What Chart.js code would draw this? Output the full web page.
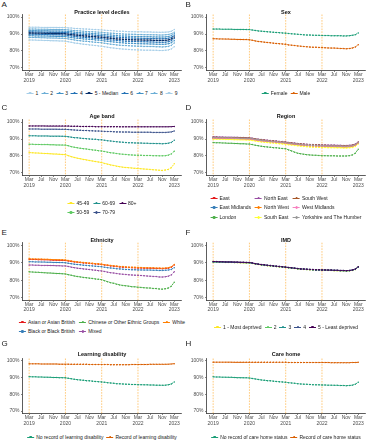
<!DOCTYPE html>
<html><head><meta charset="utf-8">
<script src="https://cdn.jsdelivr.net/npm/chart.js@4.4.1/dist/chart.umd.min.js"></script>
<style>
html,body{margin:0;padding:0;background:#fff}
body{width:368px;height:440px;position:relative;overflow:hidden;font-family:"Liberation Sans",Arial,sans-serif}
canvas.cv{position:absolute}
.lbl{position:absolute;font-size:8px;line-height:8px;color:#222}
.ttl{position:absolute;font-size:5.5px;line-height:6px;font-weight:bold;color:#111;white-space:nowrap;transform:translateX(-50%)}
.leg{position:absolute;font-size:5px;line-height:5px;color:#222;display:grid;grid-auto-flow:column;column-gap:4px;row-gap:4.7px;white-space:nowrap;transform:translateX(-50%)}
.it{display:flex;align-items:center;height:5px}
.key{width:7px;height:5px;position:relative;margin-right:2px;flex:none}
.key i{position:absolute;left:0;right:0;top:2px;height:1px;background:var(--c)}
.key b{position:absolute;left:2.3px;top:1.3px;width:2.4px;height:2.4px;border-radius:50%;background:var(--c)}
</style></head>
<body>
<script>
// ---------- categories & ticks ----------
const months = ["2019-03","2019-04","2019-05","2019-06","2019-07","2019-08","2019-09","2019-10","2019-11","2019-12","2020-01","2020-02",
"2020-03","2020-04","2020-05","2020-06","2020-07","2020-08","2020-09","2020-10","2020-11","2020-12","2021-01","2021-02",
"2021-03","2021-04","2021-05","2021-06","2021-07","2021-08","2021-09","2021-10","2021-11","2021-12","2022-01","2022-02",
"2022-03","2022-04","2022-05","2022-06","2022-07","2022-08","2022-09","2022-10","2022-11","2022-12","2023-01","2023-02","2023-03"];
const xTickIndex = [0,4,8,12,16,20,24,28,32,36,40,44,48];
const xTickLabels = [["Mar","2019"],"Jul","Nov",["Mar","2020"],"Jul","Nov",["Mar","2021"],"Jul","Nov",["Mar","2022"],"Jul","Nov",["Mar","2023"]];
const yTicks = [70,80,90,100];
const markerMonths = [0,12,24,36];

// ---------- A: practice level deciles ----------
const decileNames = ["1","2","3","4","5 - Median","6","7","8","9"];
const d1 = [86.5,86.4,86.4,86.3,86.3,86.2,86.2,86.1,86.0,86.0,85.9,85.9,85.8,85.4,85.1,84.7,84.5,84.2,84.0,83.8,83.6,83.4,83.2,83.0,82.8,82.5,82.2,81.9,81.7,81.5,81.3,81.1,81.0,80.9,80.8,80.7,80.6,80.6,80.5,80.5,80.5,80.4,80.4,80.3,80.3,80.4,80.6,81.2,82.5];
const d2 = [88.0,88.0,87.9,87.9,87.8,87.8,87.7,87.7,87.6,87.6,87.5,87.5,87.4,87.1,86.8,86.5,86.2,86.0,85.8,85.7,85.5,85.3,85.1,85.0,84.8,84.5,84.3,84.0,83.8,83.6,83.4,83.3,83.2,83.1,83.0,82.9,82.8,82.8,82.7,82.7,82.6,82.6,82.5,82.5,82.4,82.5,82.7,83.3,84.7];
const d3 = [89.0,89.0,88.9,88.9,88.8,88.8,88.8,88.7,88.7,88.6,88.6,88.5,88.5,88.2,87.9,87.7,87.5,87.3,87.1,87.0,86.8,86.7,86.5,86.4,86.2,85.9,85.7,85.5,85.3,85.1,84.9,84.8,84.6,84.5,84.5,84.4,84.3,84.3,84.2,84.2,84.1,84.1,84.0,84.0,83.9,84.0,84.2,84.8,86.1];
const d4 = [89.9,89.9,89.8,89.8,89.7,89.7,89.7,89.6,89.6,89.5,89.5,89.4,89.4,89.1,88.9,88.6,88.4,88.2,88.1,87.9,87.8,87.6,87.5,87.4,87.2,87.0,86.7,86.5,86.4,86.2,86.0,85.9,85.8,85.7,85.6,85.6,85.5,85.5,85.4,85.4,85.3,85.3,85.2,85.2,85.1,85.2,85.4,86.0,87.3];
const d5 = [90.6,90.6,90.5,90.5,90.5,90.4,90.4,90.4,90.3,90.3,90.3,90.2,90.2,89.9,89.7,89.4,89.3,89.1,88.9,88.8,88.6,88.5,88.4,88.2,88.1,87.9,87.7,87.5,87.3,87.1,87.0,86.9,86.8,86.7,86.6,86.6,86.5,86.5,86.4,86.4,86.4,86.3,86.3,86.2,86.2,86.3,86.5,87.0,88.3];
const d6 = [91.3,91.3,91.2,91.2,91.2,91.1,91.1,91.1,91.0,91.0,91.0,90.9,90.9,90.7,90.4,90.2,90.0,89.9,89.8,89.6,89.5,89.4,89.2,89.1,89.0,88.8,88.6,88.4,88.3,88.1,88.0,87.9,87.8,87.7,87.6,87.6,87.5,87.5,87.4,87.4,87.4,87.3,87.3,87.2,87.2,87.3,87.5,88.0,89.2];
const d7 = [92.0,92.0,92.0,91.9,91.9,91.9,91.9,91.8,91.8,91.8,91.8,91.7,91.7,91.5,91.3,91.1,90.9,90.7,90.6,90.5,90.4,90.3,90.1,90.0,89.9,89.7,89.5,89.4,89.2,89.1,88.9,88.8,88.8,88.7,88.6,88.6,88.5,88.5,88.4,88.4,88.4,88.3,88.3,88.2,88.2,88.3,88.5,89.0,90.1];
const d8 = [92.9,92.9,92.9,92.8,92.8,92.8,92.8,92.7,92.7,92.7,92.7,92.6,92.6,92.4,92.2,92.0,91.9,91.8,91.6,91.5,91.4,91.3,91.2,91.1,91.0,90.8,90.6,90.5,90.4,90.2,90.1,90.0,89.9,89.9,89.8,89.8,89.7,89.7,89.6,89.6,89.6,89.5,89.5,89.4,89.4,89.5,89.7,90.1,91.1];
const d9 = [94.0,94.0,94.0,94.0,93.9,93.9,93.9,93.9,93.9,93.9,93.8,93.8,93.8,93.6,93.5,93.3,93.2,93.1,93.0,92.9,92.8,92.7,92.6,92.5,92.4,92.2,92.1,92.0,91.9,91.7,91.6,91.6,91.5,91.4,91.4,91.3,91.3,91.3,91.2,91.2,91.2,91.1,91.1,91.0,91.0,91.1,91.2,91.6,92.6];

// ---------- B: sex ----------
const sexNames = ["Female","Male"];
const female = [92.9,92.9,92.9,92.8,92.8,92.8,92.8,92.7,92.7,92.7,92.7,92.6,92.6,92.3,92.1,91.8,91.7,91.5,91.3,91.2,91.0,90.9,90.8,90.6,90.5,90.3,90.1,90.0,89.8,89.7,89.5,89.4,89.4,89.3,89.2,89.2,89.1,89.1,89.1,89.0,89.0,89.0,89.0,88.9,88.9,89.0,89.2,89.6,90.6];
const male = [87.2,87.2,87.1,87.1,87.0,87.0,86.9,86.9,86.8,86.8,86.7,86.7,86.6,86.3,85.9,85.6,85.4,85.2,85.0,84.8,84.6,84.4,84.3,84.1,83.9,83.6,83.4,83.2,83.0,82.8,82.6,82.5,82.3,82.2,82.2,82.1,82.0,81.9,81.8,81.7,81.7,81.6,81.5,81.4,81.3,81.4,81.7,82.3,83.7];

// ---------- C: age band ----------
const ageNames = ["45-49","50-59","60-69","70-79","80+"];
const age45 = [82.0,81.9,81.8,81.7,81.6,81.5,81.4,81.3,81.2,81.1,81.0,80.9,80.8,80.2,79.6,79.1,78.7,78.3,78.0,77.7,77.3,77.0,76.7,76.4,76.1,75.6,75.2,74.7,74.4,74.0,73.7,73.4,73.2,73.1,72.9,72.7,72.6,72.5,72.3,72.2,72.1,71.9,71.8,71.6,71.5,71.7,72.1,73.1,75.4];
const age50 = [86.9,86.9,86.8,86.8,86.7,86.7,86.7,86.6,86.6,86.5,86.5,86.4,86.4,86.0,85.5,85.1,84.8,84.5,84.3,84.1,83.8,83.6,83.4,83.1,82.9,82.6,82.2,81.9,81.7,81.4,81.2,81.0,80.9,80.7,80.6,80.5,80.4,80.4,80.3,80.3,80.3,80.2,80.2,80.1,80.1,80.2,80.5,81.2,82.8];
const age60 = [91.9,91.9,91.9,91.8,91.8,91.8,91.8,91.7,91.7,91.7,91.7,91.6,91.6,91.3,91.1,90.8,90.7,90.5,90.3,90.2,90.0,89.9,89.8,89.6,89.5,89.2,89.0,88.8,88.6,88.4,88.2,88.1,87.9,87.8,87.8,87.7,87.6,87.6,87.5,87.5,87.4,87.4,87.3,87.3,87.2,87.3,87.5,88.0,89.2];
const age70 = [95.9,95.9,95.9,95.9,95.8,95.8,95.8,95.8,95.8,95.8,95.7,95.7,95.7,95.6,95.4,95.3,95.2,95.1,95.0,95.0,94.9,94.8,94.7,94.7,94.6,94.5,94.4,94.4,94.3,94.2,94.2,94.1,94.1,94.1,94.0,94.0,94.0,94.0,94.0,94.0,94.0,93.9,93.9,93.9,93.9,93.9,94.0,94.2,94.7];
const age80 = [97.7,97.7,97.7,97.7,97.7,97.7,97.6,97.6,97.6,97.6,97.6,97.6,97.6,97.6,97.5,97.5,97.5,97.4,97.4,97.4,97.4,97.4,97.3,97.3,97.3,97.3,97.3,97.3,97.3,97.3,97.2,97.2,97.2,97.2,97.2,97.2,97.2,97.2,97.2,97.2,97.2,97.2,97.2,97.2,97.2,97.2,97.2,97.3,97.4];

// ---------- D: region ----------
const regionNames = ["East","East Midlands","London","North East","North West","South East","South West","West Midlands","Yorkshire and The Humber"];
const regEast = [90.7,90.7,90.6,90.6,90.5,90.5,90.5,90.4,90.4,90.3,90.3,90.2,90.2,89.9,89.6,89.3,89.1,88.9,88.7,88.5,88.4,88.2,88.0,87.9,87.7,87.4,87.2,87.0,86.8,86.6,86.5,86.3,86.2,86.1,86.0,86.0,85.9,85.9,85.8,85.8,85.8,85.7,85.7,85.6,85.6,85.7,85.9,86.5,87.8];
const regEastMid = [90.4,90.4,90.3,90.3,90.3,90.2,90.2,90.2,90.1,90.1,90.1,90.0,90.0,89.7,89.4,89.1,88.9,88.7,88.5,88.3,88.2,88.0,87.8,87.7,87.5,87.2,87.0,86.8,86.6,86.4,86.3,86.1,86.0,85.9,85.8,85.8,85.7,85.7,85.6,85.6,85.6,85.5,85.5,85.4,85.4,85.5,85.7,86.2,87.5];
const regLondon = [87.9,87.8,87.8,87.7,87.6,87.5,87.5,87.4,87.3,87.2,87.2,87.1,87.0,86.7,86.3,86.0,85.7,85.5,85.3,85.1,84.9,84.8,84.6,84.4,84.2,83.6,82.9,82.2,81.6,81.3,81.0,80.8,80.6,80.5,80.4,80.3,80.2,80.2,80.1,80.1,80.1,80.0,80.0,80.0,80.0,80.2,80.6,81.6,84.0];
const regNorthEast = [91.3,91.3,91.2,91.2,91.1,91.1,91.1,91.0,91.0,90.9,90.9,90.8,90.8,90.5,90.2,89.9,89.7,89.5,89.3,89.1,89.0,88.8,88.6,88.5,88.3,88.0,87.8,87.6,87.4,87.2,87.1,86.9,86.8,86.7,86.6,86.6,86.5,86.5,86.4,86.4,86.4,86.3,86.3,86.2,86.2,86.3,86.5,87.0,88.3];
const regNorthWest = [90.5,90.5,90.4,90.4,90.3,90.3,90.2,90.2,90.1,90.1,90.0,90.0,89.9,89.6,89.3,89.0,88.8,88.6,88.4,88.2,88.1,87.9,87.7,87.6,87.4,87.1,86.9,86.7,86.5,86.3,86.1,86.0,85.8,85.7,85.7,85.6,85.5,85.5,85.4,85.4,85.4,85.3,85.3,85.2,85.2,85.3,85.6,86.2,87.6];
const regSouthEast = [89.9,89.9,89.8,89.8,89.7,89.7,89.7,89.6,89.6,89.5,89.5,89.4,89.4,89.1,88.8,88.5,88.3,88.1,87.9,87.7,87.6,87.4,87.2,87.1,86.9,86.6,86.4,86.2,86.0,85.8,85.6,85.5,85.3,85.2,85.2,85.1,85.0,85.0,84.9,84.9,84.9,84.8,84.8,84.7,84.7,84.8,85.0,85.6,87.0];
const regSouthWest = [91.0,91.0,90.9,90.9,90.9,90.8,90.8,90.8,90.7,90.7,90.7,90.6,90.6,90.3,90.0,89.7,89.5,89.3,89.1,88.9,88.8,88.6,88.4,88.3,88.1,87.8,87.6,87.4,87.2,87.0,86.9,86.7,86.6,86.5,86.4,86.4,86.3,86.3,86.2,86.2,86.2,86.1,86.1,86.0,86.0,86.1,86.3,86.8,88.1];
const regWestMid = [90.6,90.6,90.5,90.5,90.4,90.4,90.4,90.3,90.3,90.2,90.2,90.1,90.1,89.8,89.5,89.2,89.0,88.8,88.7,88.5,88.3,88.2,88.0,87.9,87.7,87.4,87.2,87.0,86.8,86.6,86.5,86.3,86.2,86.1,86.0,86.0,85.9,85.9,85.8,85.8,85.8,85.7,85.7,85.6,85.6,85.7,85.9,86.5,87.8];
const regYorks = [90.9,90.9,90.8,90.8,90.7,90.7,90.7,90.6,90.6,90.5,90.5,90.4,90.4,90.1,89.8,89.5,89.3,89.1,88.9,88.7,88.6,88.4,88.2,88.1,87.9,87.6,87.4,87.2,87.0,86.8,86.7,86.5,86.4,86.3,86.2,86.2,86.1,86.1,86.0,86.0,86.0,85.9,85.9,85.8,85.8,85.9,86.1,86.7,88.0];

// ---------- E: ethnicity ----------
const ethNames = ["Asian or Asian British","Black or Black British","Chinese or Other Ethnic Groups","Mixed","White"];
const ethAsian = [92.0,91.9,91.9,91.8,91.8,91.7,91.7,91.6,91.5,91.5,91.4,91.4,91.3,91.0,90.7,90.5,90.3,90.1,89.9,89.8,89.6,89.5,89.3,89.2,89.0,88.7,88.5,88.2,88.0,87.8,87.6,87.5,87.4,87.3,87.2,87.1,87.0,87.0,86.9,86.9,86.8,86.8,86.7,86.7,86.6,86.7,86.9,87.4,88.7];
const ethBlack = [90.6,90.6,90.5,90.5,90.4,90.4,90.3,90.3,90.2,90.2,90.1,90.1,90.0,89.7,89.4,89.2,89.0,88.8,88.6,88.5,88.3,88.2,88.0,87.9,87.7,87.4,87.2,87.0,86.8,86.6,86.5,86.3,86.2,86.1,86.0,86.0,85.9,85.9,85.8,85.8,85.8,85.7,85.7,85.6,85.6,85.7,85.8,86.2,87.2];
const ethChinese = [84.8,84.7,84.6,84.5,84.4,84.3,84.2,84.1,84.0,83.9,83.8,83.7,83.6,83.2,82.8,82.4,82.1,81.9,81.6,81.4,81.2,81.0,80.7,80.5,80.3,79.7,79.1,78.6,78.2,77.7,77.3,77.0,76.8,76.6,76.3,76.2,76.0,75.9,75.7,75.6,75.5,75.3,75.2,75.0,74.9,75.1,75.5,76.5,78.9];
const ethMixed = [88.7,88.7,88.6,88.6,88.5,88.5,88.5,88.4,88.4,88.3,88.3,88.2,88.2,87.9,87.5,87.2,86.9,86.7,86.5,86.3,86.1,85.9,85.7,85.5,85.3,85.0,84.6,84.3,84.1,83.8,83.6,83.4,83.3,83.1,83.0,82.9,82.8,82.7,82.6,82.4,82.3,82.2,82.1,81.9,81.8,82.0,82.3,83.0,84.8];
const ethWhite = [92.3,92.2,92.2,92.1,92.1,92.0,92.0,91.9,91.8,91.8,91.7,91.7,91.6,91.3,91.0,90.7,90.5,90.3,90.2,90.0,89.8,89.7,89.5,89.4,89.2,88.9,88.7,88.5,88.3,88.1,87.9,87.8,87.6,87.5,87.5,87.4,87.3,87.3,87.2,87.2,87.1,87.1,87.0,87.0,86.9,87.0,87.2,87.7,89.0];

// ---------- F: IMD ----------
const imdNames = ["1 - Most deprived","2","3","4","5 - Least deprived"];
const imd1 = [90.4,90.4,90.3,90.3,90.2,90.2,90.2,90.1,90.1,90.0,90.0,89.9,89.9,89.6,89.3,89.0,88.7,88.5,88.3,88.2,88.0,87.8,87.6,87.5,87.3,87.1,86.9,86.7,86.5,86.3,86.2,86.1,86.0,85.9,85.8,85.8,85.7,85.7,85.6,85.6,85.5,85.5,85.4,85.4,85.3,85.4,85.6,86.2,87.5];
const imd2 = [90.5,90.5,90.4,90.4,90.3,90.3,90.3,90.2,90.2,90.1,90.1,90.0,90.0,89.7,89.4,89.1,88.8,88.6,88.4,88.3,88.1,87.9,87.7,87.6,87.4,87.2,87.0,86.8,86.6,86.4,86.3,86.2,86.1,86.0,85.9,85.9,85.8,85.8,85.7,85.7,85.6,85.6,85.5,85.5,85.4,85.5,85.7,86.2,87.5];
const imd3 = [90.5,90.5,90.5,90.4,90.4,90.3,90.3,90.2,90.2,90.2,90.1,90.1,90.0,89.7,89.4,89.1,88.9,88.7,88.5,88.3,88.1,87.9,87.8,87.6,87.4,87.2,87.0,86.8,86.6,86.5,86.3,86.2,86.1,86.0,85.9,85.9,85.8,85.8,85.7,85.7,85.6,85.6,85.5,85.5,85.4,85.5,85.7,86.3,87.6];
const imd4 = [90.6,90.6,90.5,90.5,90.4,90.4,90.4,90.3,90.3,90.2,90.2,90.1,90.1,89.8,89.5,89.2,88.9,88.7,88.5,88.4,88.2,88.0,87.8,87.7,87.5,87.3,87.1,86.9,86.7,86.5,86.4,86.3,86.2,86.1,86.0,86.0,85.9,85.9,85.8,85.8,85.7,85.7,85.6,85.6,85.5,85.6,85.8,86.3,87.6];
const imd5 = [90.7,90.7,90.6,90.6,90.5,90.5,90.5,90.4,90.4,90.3,90.3,90.2,90.2,89.9,89.5,89.2,89.0,88.8,88.6,88.4,88.2,88.0,87.9,87.7,87.5,87.3,87.1,86.9,86.7,86.5,86.4,86.3,86.2,86.1,86.0,86.0,85.9,85.9,85.8,85.8,85.7,85.7,85.6,85.6,85.5,85.6,85.8,86.4,87.7];

// ---------- G: learning disability ----------
const ldNames = ["No record of learning disability","Record of learning disability"];
const ldNo = [90.6,90.5,90.5,90.4,90.4,90.3,90.3,90.2,90.1,90.1,90.0,90.0,89.9,89.6,89.3,89.0,88.8,88.6,88.4,88.2,88.1,87.9,87.7,87.6,87.4,87.2,87.0,86.8,86.6,86.4,86.3,86.2,86.1,86.0,85.9,85.9,85.8,85.8,85.7,85.7,85.6,85.6,85.5,85.5,85.4,85.5,85.7,86.2,87.4];
const ldYes = [98.3,98.3,98.3,98.3,98.2,98.2,98.2,98.2,98.2,98.2,98.1,98.1,98.1,98.1,98.0,98.0,98.0,98.0,98.0,98.0,97.9,97.9,97.9,97.9,97.9,97.9,97.9,97.8,97.8,97.8,97.8,97.8,97.8,97.8,97.9,97.9,97.9,97.9,97.9,97.9,98.0,98.0,98.0,98.0,98.0,98.0,98.1,98.2,98.4];

// ---------- H: care home ----------
const chNames = ["No record of care home status","Record of care home status"];
const chNo = [90.5,90.4,90.4,90.3,90.3,90.2,90.2,90.1,90.0,90.0,89.9,89.9,89.8,89.5,89.2,88.9,88.6,88.4,88.2,88.1,87.9,87.7,87.5,87.4,87.2,87.0,86.8,86.6,86.4,86.2,86.1,86.0,85.9,85.8,85.7,85.7,85.6,85.6,85.5,85.5,85.4,85.4,85.3,85.3,85.2,85.3,85.5,86.0,87.3];
const chYes = [99.3,99.3,99.3,99.3,99.3,99.3,99.3,99.2,99.2,99.2,99.2,99.2,99.2,99.2,99.2,99.2,99.2,99.2,99.2,99.2,99.2,99.2,99.2,99.2,99.2,99.1,99.1,99.1,99.1,99.1,99.1,99.1,99.1,99.1,99.1,99.1,99.1,99.1,99.1,99.0,99.0,99.0,99.0,99.0,99.0,99.0,99.1,99.1,99.2];

// ---------- styles ----------
const FONT = '"Liberation Sans", Arial, sans-serif';
const blues = ["#a6cee8","#6baed6","#4292c6","#2171b5","#08306b","#2171b5","#4292c6","#6baed6","#a6cee8"];
const dark2 = ["#1b9e77","#d95f02"];
const viridis5 = ["#fde725","#5ec962","#21918c","#3b528b","#440154"];
const set1Region = ["#e41a1c","#377eb8","#4daf4a","#984ea3","#ff7f00","#ffff33","#a65628","#f781bf","#999999"];
const set1Eth = ["#e41a1c","#377eb8","#4daf4a","#984ea3","#ff7f00"];

const panels = [
 {letter:"A",title:"Practice level deciles",col:0,row:0,names:decileNames,series:[d1,d2,d3,d4,d5,d6,d7,d8,d9],colors:blues,top:true,legRows:1,legY:93,median:4},
 {letter:"B",title:"Sex",col:1,row:0,names:sexNames,series:[female,male],colors:dark2,legRows:1,legY:93},
 {letter:"C",title:"Age band",col:0,row:1,names:ageNames,series:[age45,age50,age60,age70,age80],colors:viridis5,legRows:2,legY:203},
 {letter:"D",title:"Region",col:1,row:1,names:regionNames,series:[regEast,regEastMid,regLondon,regNorthEast,regNorthWest,regSouthEast,regSouthWest,regWestMid,regYorks],colors:set1Region,legRows:3,legY:198},
 {letter:"E",title:"Ethnicity",col:0,row:2,names:ethNames,series:[ethAsian,ethBlack,ethChinese,ethMixed,ethWhite],colors:set1Eth,legRows:2,legY:322},
 {letter:"F",title:"IMD",col:1,row:2,names:imdNames,series:[imd1,imd2,imd3,imd4,imd5],colors:viridis5,legRows:1,legY:327},
 {letter:"G",title:"Learning disability",col:0,row:3,names:ldNames,series:[ldNo,ldYes],colors:dark2,legRows:1,legY:437},
 {letter:"H",title:"Care home",col:1,row:3,names:chNames,series:[chNo,chYes],colors:dark2,legRows:1,legY:437}
];
// layout per row
const rowPlotTop = [14.5,119.5,242.7,358.5];
const rowPlotH = [56,56,57.6,55];
const rowLetterY = [0.5,103.5,228.5,340];
const rowTitleY = [8.5,113,236.5,351];
const colLeft = [0,184];
const colCenter = [102,286];
const Y_AXIS_W = 22.5, X_AXIS_H = 17;

const vlinePlugin = {
  id:'vlines',
  beforeDatasetsDraw(chart){
    const {ctx, chartArea:a, scales:{x}} = chart;
    ctx.save();
    ctx.strokeStyle = 'rgba(255,176,60,0.75)';
    ctx.lineWidth = 0.9;
    ctx.setLineDash([1.6,1.2]);
    markerMonths.forEach(m=>{
      const px = x.getPixelForValue(m);
      ctx.beginPath(); ctx.moveTo(px,a.top); ctx.lineTo(px,a.bottom); ctx.stroke();
    });
    ctx.restore();
  }
};

function addDiv(cls, txt, left, top){
  const d=document.createElement('div'); d.className=cls; d.textContent=txt;
  d.style.left=left+'px'; d.style.top=top+'px'; document.body.appendChild(d); return d;
}

panels.forEach(p=>{
  const plotTop = rowPlotTop[p.row], plotH = rowPlotH[p.row];
  const cTop = Math.floor(plotTop) - 4;
  const padTop = plotTop - cTop;
  const h = Math.ceil(padTop + plotH + X_AXIS_H + 1);
  const padBottom = h - padTop - plotH - X_AXIS_H;
  const cv = document.createElement('canvas');
  cv.className='cv'; cv.width=184; cv.height=h;
  cv.style.left=colLeft[p.col]+'px'; cv.style.top=cTop+'px';
  cv.style.width='184px'; cv.style.height=h+'px';
  document.body.appendChild(cv);
  const n = p.series.length;
  new Chart(cv,{
    type:'line',
    data:{datasets:p.series.map((s,k)=>({
      label:p.names[k],
      data:s.map((v,i)=>({x:i,y:v})),
      borderColor:p.colors[k], backgroundColor:p.colors[k],
      borderWidth:(p.median===k)?1.3:1,
      borderDash:[2.2,0.9],
      pointRadius:0.75, pointBorderWidth:0, pointHoverRadius:0,
      tension:0,
      order:(p.median===k)?-1:(n-k)
    }))},
    options:{
      responsive:false, animation:false, devicePixelRatio:1, events:[],
      layout:{padding:{top:padTop,bottom:padBottom,left:0,right:2.5}},
      plugins:{legend:{display:false},tooltip:{enabled:false},title:{display:false}},
      scales:{
        x:{type:'linear',min:-2.2,max:50.4,
          afterBuildTicks:ax=>{ax.ticks=xTickIndex.map(v=>({value:v}));},
          afterFit:ax=>{ax.height=X_AXIS_H;},
          grid:{display:true,drawOnChartArea:false,drawTicks:true,tickLength:1.5,color:'#333',lineWidth:0.6},
          border:{display:true,color:'#333',width:0.8},
          ticks:{autoSkip:false,maxRotation:0,padding:0,color:'#4d4d4d',font:{family:FONT,size:5,lineHeight:1.1},
            callback:(v,i)=>xTickLabels[i]}
        },
        y:{min:68.5,max:101.5,
          afterBuildTicks:ax=>{ax.ticks=yTicks.map(v=>({value:v}));},
          afterFit:ax=>{ax.width=Y_AXIS_W;},
          grid:{display:true,drawOnChartArea:false,drawTicks:true,tickLength:1.5,color:'#333',lineWidth:0.6},
          border:{display:true,color:'#333',width:0.8},
          ticks:{padding:1.5,color:'#4d4d4d',font:{family:FONT,size:5},callback:v=>v+'%'}
        }
      }
    },
    plugins:[vlinePlugin]
  });
  // panel letter and title
  addDiv('lbl',p.letter,colLeft[p.col]+1.5,rowLetterY[p.row]);
  addDiv('ttl',p.title,colCenter[p.col],rowTitleY[p.row]);
  // legend
  const lg=document.createElement('div'); lg.className='leg';
  lg.style.left=colCenter[p.col]+'px'; lg.style.top=(p.legY-2.5)+'px';
  lg.style.gridTemplateRows=`repeat(${p.legRows},5px)`;
  if(p.legRows===1) lg.style.columnGap='3px';
  p.names.forEach((nm,k)=>{
    const it=document.createElement('div'); it.className='it';
    const key=document.createElement('span'); key.className='key'; key.style.setProperty('--c',p.colors[k]);
    key.innerHTML='<i></i><b></b>';
    const t=document.createElement('span'); t.textContent=nm;
    it.appendChild(key); it.appendChild(t); lg.appendChild(it);
  });
  document.body.appendChild(lg);
});
</script>
</body></html>
